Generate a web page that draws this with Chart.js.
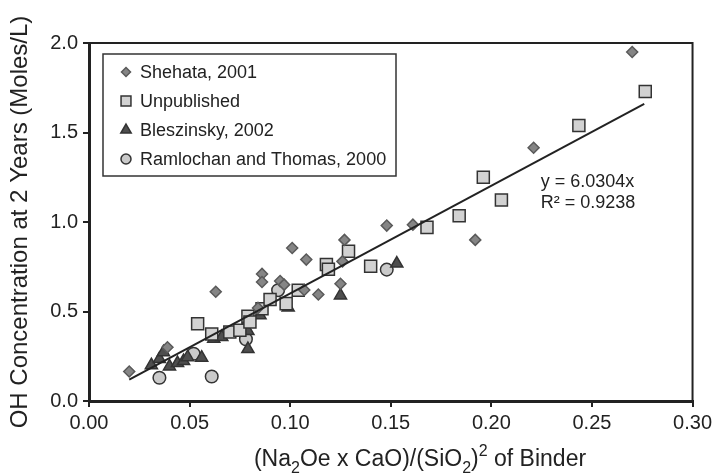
<!DOCTYPE html>
<html lang="en">
<head>
<meta charset="UTF-8">
<title>OH concentration vs binder</title>
<script src="https://cdn.jsdelivr.net/npm/chart.js"></script>
<style>
  html, body { margin: 0; padding: 0; background: #fff; }
</style>
</head>
<body>
<canvas id="myChart" width="716" height="475"></canvas>
<script>
// series
const shehata_x = [0.020, 0.039, 0.063, 0.084, 0.086, 0.086, 0.095, 0.097, 0.101, 0.107, 0.108, 0.114, 0.125, 0.126, 0.127, 0.148, 0.161, 0.192, 0.221, 0.270];
const shehata_y = [0.165, 0.30, 0.61, 0.52, 0.71, 0.665, 0.67, 0.65, 0.855, 0.62, 0.79, 0.595, 0.655, 0.78, 0.90, 0.98, 0.985, 0.90, 1.415, 1.95];

const unpub_x = [0.054, 0.061, 0.070, 0.075, 0.079, 0.080, 0.086, 0.090, 0.098, 0.104, 0.118, 0.119, 0.129, 0.140, 0.168, 0.184, 0.196, 0.205, 0.2435, 0.2765];
const unpub_y = [0.432, 0.374, 0.385, 0.395, 0.473, 0.441, 0.516, 0.567, 0.544, 0.619, 0.762, 0.736, 0.837, 0.753, 0.97, 1.035, 1.25, 1.123, 1.539, 1.729];

const blesz_x = [0.031, 0.035, 0.037, 0.040, 0.044, 0.047, 0.049, 0.056, 0.062, 0.066, 0.079, 0.079, 0.079, 0.085, 0.099, 0.125, 0.153];
const blesz_y = [0.20, 0.235, 0.273, 0.193, 0.212, 0.223, 0.245, 0.242, 0.348, 0.357, 0.29, 0.391, 0.451, 0.479, 0.522, 0.59, 0.768];

const ramlo_x = [0.035, 0.052, 0.061, 0.078, 0.094, 0.148];
const ramlo_y = [0.13, 0.264, 0.137, 0.345, 0.619, 0.734];

const trend_x = [0.020, 0.276];
const trend_y = [0.12, 1.66];

const series_names = ['Shehata, 2001', 'Unpublished', 'Bleszinsky, 2002', 'Ramlochan and Thomas, 2000'];
const x_ticks = [0, 0.05, 0.10, 0.15, 0.20, 0.25, 0.30];
const y_ticks = [0, 0.5, 1.0, 1.5, 2.0];
const fit_text = ['y = 6.0304x', 'R\u00B2 = 0.9238'];

const FONT = "'Liberation Sans', Arial, Helvetica, sans-serif";

function zip(xs, ys) { return xs.map((x, i) => ({ x: x, y: ys[i] })); }

const styles = [
  { shape: 'rectRot', fill: '#858585', stroke: '#5a5a5a', r: 5.5, lr: 4.5 },
  { shape: 'rect', fill: '#d2d2d2', stroke: '#333', r: 8.5, lr: 7 },
  { shape: 'triangle', fill: '#4e4e4e', stroke: '#333', r: 7, lr: 6 },
  { shape: 'circle', fill: '#cacaca', stroke: '#333', r: 6.3, lr: 5 }
];
const seriesData = [zip(shehata_x, shehata_y), zip(unpub_x, unpub_y), zip(blesz_x, blesz_y), zip(ramlo_x, ramlo_y)];

function drawMarker(ctx, s, x, y, r) {
  ctx.beginPath();
  if (s.shape === 'rectRot') {
    ctx.moveTo(x, y - r); ctx.lineTo(x + r, y); ctx.lineTo(x, y + r); ctx.lineTo(x - r, y);
  } else if (s.shape === 'rect') {
    const h = r * Math.SQRT1_2;
    ctx.rect(x - h, y - h, 2 * h, 2 * h);
  } else if (s.shape === 'triangle') {
    for (let k = 0; k < 3; k++) {
      const a = k * 2 * Math.PI / 3;
      const px = x + Math.sin(a) * r, py = y - Math.cos(a) * r;
      if (k === 0) ctx.moveTo(px, py); else ctx.lineTo(px, py);
    }
  } else {
    ctx.arc(x, y, r, 0, Math.PI * 2);
  }
  ctx.closePath();
  ctx.fillStyle = s.fill; ctx.fill();
  ctx.lineWidth = 1.5; ctx.strokeStyle = s.stroke; ctx.stroke();
}

// draws text pieces with sub/superscripts, centred on cx
function drawRich(ctx, parts, cx, cy, size) {
  const big = size + 'px ' + FONT, small = Math.round(size * 0.68) + 'px ' + FONT;
  let total = 0;
  parts.forEach(p => { ctx.font = p.s ? small : big; total += ctx.measureText(p.t).width; });
  let x = cx - total / 2;
  ctx.textAlign = 'left'; ctx.textBaseline = 'alphabetic';
  parts.forEach(p => {
    ctx.font = p.s ? small : big;
    const dy = p.s === 'sub' ? size * 0.3 : (p.s === 'sup' ? -size * 0.42 : 0);
    ctx.fillText(p.t, x, cy + dy);
    x += ctx.measureText(p.t).width;
  });
}

const extras = {
  id: 'extras',
  afterDraw(chart) {
    const { ctx, chartArea: a, scales } = chart;
    ctx.save();
    // frame
    ctx.strokeStyle = '#222'; ctx.lineWidth = 2;
    ctx.strokeRect(a.left, a.top, a.right - a.left, a.bottom - a.top);

    // legend box
    const bx = a.left + 14, by = a.top + 11, bw = 293, bh = 122;
    ctx.fillStyle = '#fff'; ctx.fillRect(bx, by, bw, bh);
    ctx.lineWidth = 1.5; ctx.strokeStyle = '#333';
    ctx.strokeRect(bx, by, bw, bh);
    ctx.font = '18px ' + FONT; ctx.textBaseline = 'middle'; ctx.textAlign = 'left';
    series_names.forEach((name, i) => {
      const yy = by + 18 + i * 29;
      drawMarker(ctx, styles[i], bx + 23, yy, styles[i].lr);
      ctx.fillStyle = '#222';
      ctx.fillText(name, bx + 37, yy + 1);
    });

    // fit equation
    ctx.fillStyle = '#222'; ctx.font = '18px ' + FONT;
    const tx = scales.x.getPixelForValue(0.2245);
    ctx.fillText(fit_text[0], tx, scales.y.getPixelForValue(1.223));
    ctx.fillText(fit_text[1], tx, scales.y.getPixelForValue(1.106));

    // x axis title
    ctx.fillStyle = '#222';
    drawRich(ctx, [
      { t: '(Na' }, { t: '2', s: 'sub' }, { t: 'Oe x CaO)/(SiO' }, { t: '2', s: 'sub' },
      { t: ')' }, { t: '2', s: 'sup' }, { t: ' of Binder' }
    ], 420, 466, 23);
    ctx.restore();
  }
};

const ctx = document.getElementById('myChart');
new Chart(ctx, {
  type: 'scatter',
  data: {
    datasets: [
      {
        type: 'line', label: 'fit', data: zip(trend_x, trend_y),
        borderColor: '#222', borderWidth: 2, pointRadius: 0, fill: false, order: 0
      }
    ].concat(seriesData.map((d, i) => ({
      label: series_names[i], data: d,
      pointStyle: styles[i].shape, pointRadius: styles[i].r,
      backgroundColor: styles[i].fill, borderColor: styles[i].stroke, borderWidth: 1.5,
      order: i + 1
    })))
  },
  options: {
    responsive: false,
    animation: false,
    devicePixelRatio: 1,
    layout: { padding: { top: 43, right: 20, left: 0, bottom: 0 } },
    plugins: { legend: { display: false }, tooltip: { enabled: false } },
    scales: {
      x: {
        type: 'linear', min: 0, max: 0.30,
        afterBuildTicks: s => { s.ticks = x_ticks.map(v => ({ value: v })); },
        afterFit: s => { s.height = 74; },
        grid: { drawOnChartArea: false, drawTicks: true, tickLength: 6, color: '#222', lineWidth: 2 },
        border: { display: true, color: '#222', width: 3 },
        ticks: { color: '#222', padding: 4, font: { family: FONT, size: 20 }, callback: v => v.toFixed(2) }
      },
      y: {
        type: 'linear', min: 0, max: 2.0,
        afterBuildTicks: s => { s.ticks = y_ticks.map(v => ({ value: v })); },
        afterFit: s => { s.width = 89; },
        grid: { drawOnChartArea: false, drawTicks: true, tickLength: 6, color: '#222', lineWidth: 2 },
        border: { display: true, color: '#222', width: 3 },
        ticks: { color: '#222', padding: 5, font: { family: FONT, size: 20 }, callback: v => v.toFixed(1) },
        title: {
          display: true, text: 'OH Concentration at 2 Years (Moles/L)', color: '#222',
          font: { family: FONT, size: 24 }, padding: { top: 6, bottom: 0 }
        }
      }
    }
  },
  plugins: [extras]
});
</script>
</body>
</html>
